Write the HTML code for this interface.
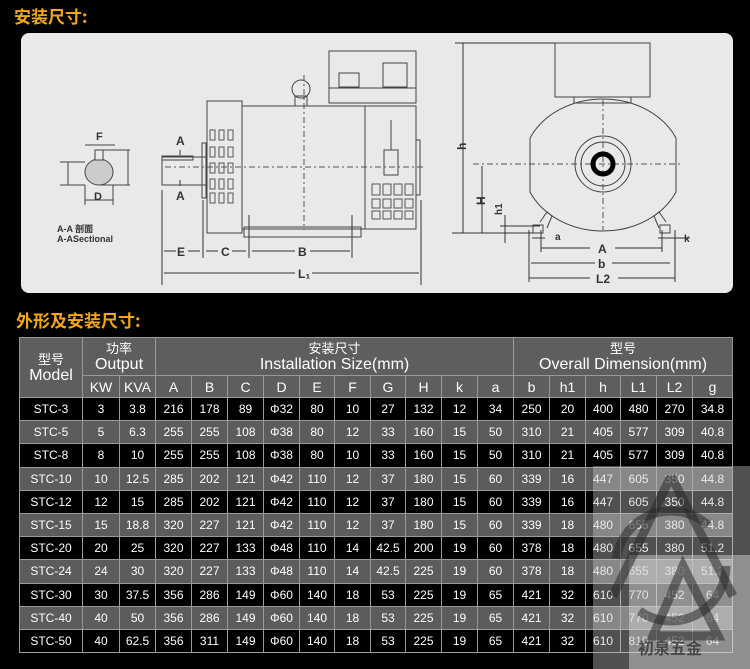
<!DOCTYPE html>
<html><head><meta charset="utf-8"><style>
*{margin:0;padding:0;box-sizing:border-box}
body{width:750px;height:669px;background:#000;position:relative;overflow:hidden;font-family:"Liberation Sans","Noto Sans CJK SC",sans-serif}
.t{position:absolute;color:#f2a71b;font-weight:bold;font-size:17px;font-family:"Noto Sans CJK SC","WenQuanYi Zen Hei",sans-serif}
.panel{position:absolute;left:21px;top:33px;width:712px;height:260px;background:#e9e9e9;border-radius:8px}
table{position:absolute;left:19px;top:337px;border-collapse:collapse;table-layout:fixed;width:714px}
td{border:1px solid #9a9a9a;color:#fff;text-align:center;font-size:12px;height:23.2px;padding:0;white-space:nowrap;overflow:hidden}
tr.h td{background:#5e5e5e;font-size:16px;line-height:16px}
tr.h2 td{background:#5e5e5e;font-size:14px;height:22px}
tr.g td{background:#5c5c5c}
tr.b td{background:#000}
.cn{font-family:"Noto Sans CJK SC",sans-serif;font-size:13px}
</style></head><body>
<div class="t" style="left:14px;top:3px">安装尺寸:</div>
<div class="panel"></div>
<svg style="position:absolute;left:0;top:0" width="750" height="300" font-family="Liberation Sans,sans-serif" font-size="11" font-weight="bold" fill="#333">
<g stroke="#444" stroke-width="1" fill="none">
<ellipse cx="99" cy="172" rx="14" ry="13" fill="#ccc"/>
<rect x="95" y="150" width="8" height="10" fill="#e9e9e9"/>
<line x1="85" y1="145" x2="115" y2="145"/><line x1="60" y1="162" x2="85" y2="162"/><line x1="60" y1="185" x2="85" y2="185"/>
<line x1="68" y1="162" x2="68" y2="185"/><line x1="128" y1="150" x2="128" y2="185"/><line x1="100" y1="150" x2="130" y2="150"/><line x1="100" y1="185" x2="130" y2="185"/>
<line x1="85" y1="200" x2="113" y2="200"/><line x1="85" y1="185" x2="85" y2="205"/><line x1="113" y1="185" x2="113" y2="205"/>
<rect x="162" y="157" width="44" height="28"/><rect x="162" y="156" width="31" height="4"/>
<rect x="207" y="101" width="35" height="132"/>
<rect x="242" y="106" width="123" height="123"/>
<rect x="365" y="106" width="51" height="123"/>
<rect x="329" y="51" width="87" height="52"/><line x1="329" y1="88" x2="416" y2="88"/>
<rect x="339" y="73" width="20" height="14"/><rect x="383" y="63" width="24" height="24"/>
<ellipse cx="301" cy="89" rx="9" ry="9"/><rect x="295" y="96" width="12" height="10"/>
<rect x="244" y="227" width="117" height="10"/>
<rect x="384" y="150" width="14" height="25"/><line x1="391" y1="120" x2="391" y2="150"/>
<rect x="202" y="143" width="4" height="55"/><rect x="416" y="140" width="4" height="55"/>
</g>
<g fill="none" stroke="#555">
<rect x="210" y="130" width="5" height="10"/><rect x="219" y="130" width="5" height="10"/><rect x="228" y="130" width="5" height="10"/>
<rect x="210" y="147" width="5" height="10"/><rect x="219" y="147" width="5" height="10"/><rect x="228" y="147" width="5" height="10"/>
<rect x="210" y="163" width="5" height="10"/><rect x="219" y="163" width="5" height="10"/><rect x="228" y="163" width="5" height="10"/>
<rect x="210" y="179" width="5" height="10"/><rect x="219" y="179" width="5" height="10"/><rect x="228" y="179" width="5" height="10"/>
<rect x="210" y="193" width="5" height="10"/><rect x="219" y="193" width="5" height="10"/><rect x="228" y="193" width="5" height="10"/>
<rect x="372" y="184" width="8" height="11"/><rect x="383" y="184" width="8" height="11"/><rect x="394" y="184" width="8" height="11"/><rect x="405" y="184" width="8" height="11"/>
<rect x="372" y="199" width="8" height="9"/><rect x="383" y="199" width="8" height="9"/><rect x="394" y="199" width="8" height="9"/><rect x="405" y="199" width="8" height="9"/>
<rect x="372" y="211" width="8" height="8"/><rect x="383" y="211" width="8" height="8"/><rect x="394" y="211" width="8" height="8"/><rect x="405" y="211" width="8" height="8"/>
</g>
<g stroke="#555" stroke-dasharray="6,3,2,3"><line x1="165" y1="167" x2="424" y2="167"/><line x1="304" y1="75" x2="304" y2="230"/><line x1="473" y1="164" x2="682" y2="164"/><line x1="603" y1="100" x2="603" y2="230"/></g>
<g stroke="#333">
<line x1="162" y1="190" x2="162" y2="285"/><line x1="421" y1="200" x2="421" y2="285"/><line x1="203" y1="200" x2="203" y2="258"/><line x1="249" y1="215" x2="249" y2="258"/><line x1="352" y1="215" x2="352" y2="258"/>
<line x1="164" y1="251" x2="176" y2="251"/><line x1="188" y1="251" x2="200" y2="251"/><line x1="206" y1="251" x2="218" y2="251"/><line x1="232" y1="251" x2="246" y2="251"/><line x1="252" y1="251" x2="295" y2="251"/><line x1="310" y1="251" x2="350" y2="251"/>
<line x1="164" y1="273" x2="295" y2="273"/><line x1="312" y1="273" x2="419" y2="273"/>
<line x1="180" y1="150" x2="180" y2="155"/><line x1="180" y1="180" x2="180" y2="186"/>
</g>
<g fill="#333" font-size="12"><text x="176" y="145">A</text><text x="176" y="200">A</text><text x="177" y="256">E</text><text x="221" y="256">C</text><text x="298" y="256">B</text><text x="298" y="278">L₁</text>
<text x="96" y="140" font-size="11">F</text><text x="94" y="200" font-size="11">D</text></g>
<text x="57" y="232" font-size="9" fill="#333">A-A 剖面</text><text x="57" y="242" font-size="9" fill="#333">A-ASectional</text>
<g stroke="#444" fill="none">
<rect x="555" y="43" width="95" height="54"/><rect x="574" y="97" width="57" height="6"/>
<path d="M530 138 A80 66 0 0 1 676 138 L676 192 A80 66 0 0 1 530 192 Z"/>
<circle cx="603" cy="164" r="28"/><circle cx="603" cy="164" r="22"/>
<circle cx="603" cy="164" r="10" stroke="#000" stroke-width="5"/>
<path d="M540 222 L547 212 L552 216 L547 228"/><path d="M666 222 L659 212 L654 216 L659 228"/>
<rect x="533" y="225" width="10" height="8"/><rect x="660" y="225" width="10" height="8"/>
</g>
<g stroke="#333">
<line x1="455" y1="43" x2="555" y2="43"/><line x1="463" y1="43" x2="463" y2="233"/><line x1="452" y1="233" x2="540" y2="233"/>
<line x1="482" y1="166" x2="482" y2="233"/><line x1="500" y1="226" x2="540" y2="226"/><line x1="505" y1="215" x2="505" y2="243"/>
<line x1="541" y1="248" x2="590" y2="248"/><line x1="615" y1="248" x2="662" y2="248"/>
<line x1="531" y1="263" x2="595" y2="263"/><line x1="612" y1="263" x2="670" y2="263"/>
<line x1="529" y1="278" x2="590" y2="278"/><line x1="618" y1="278" x2="675" y2="278"/>
<line x1="529" y1="230" x2="529" y2="282"/><line x1="675" y1="230" x2="675" y2="282"/><line x1="541" y1="230" x2="541" y2="252"/><line x1="662" y1="230" x2="662" y2="252"/>
<line x1="532" y1="238" x2="545" y2="238"/><line x1="658" y1="238" x2="690" y2="238"/>
</g>
<g fill="#333" font-size="12"><text x="598" y="253">A</text><text x="598" y="268">b</text><text x="596" y="283">L2</text><text x="555" y="240" font-size="10">a</text><text x="684" y="242" font-size="10">k</text>
<text transform="translate(466,150) rotate(-90)">h</text><text transform="translate(485,205) rotate(-90)">H</text><text transform="translate(502,215) rotate(-90)" font-size="10">h1</text></g>
</svg>
<div class="t" style="left:16px;top:307px">外形及安装尺寸:</div>
<table>
<colgroup><col style="width:63px"><col style="width:37px"><col style="width:36px"><col style="width:36px"><col style="width:36px"><col style="width:36px"><col style="width:36px"><col style="width:35px"><col style="width:36px"><col style="width:35px"><col style="width:36px"><col style="width:36px"><col style="width:36px"><col style="width:36px"><col style="width:36px"><col style="width:35px"><col style="width:36px"><col style="width:36px"><col style="width:40px"></colgroup>
<tr class="h" style="height:38px"><td rowspan="2"><span class="cn">型号</span><br>Model</td><td colspan="2"><span class="cn">功率</span><br>Output</td><td colspan="10"><span class="cn">安装尺寸</span><br>Installation Size(mm)</td><td colspan="6"><span class="cn">型号</span><br>Overall Dimension(mm)</td></tr>
<tr class="h2"><td>KW</td><td>KVA</td><td>A</td><td>B</td><td>C</td><td>D</td><td>E</td><td>F</td><td>G</td><td>H</td><td>k</td><td>a</td><td>b</td><td>h1</td><td>h</td><td>L1</td><td>L2</td><td>g</td></tr>
<tr class="b"><td>STC-3</td><td>3</td><td>3.8</td><td>216</td><td>178</td><td>89</td><td>Φ32</td><td>80</td><td>10</td><td>27</td><td>132</td><td>12</td><td>34</td><td>250</td><td>20</td><td>400</td><td>480</td><td>270</td><td>34.8</td></tr>
<tr class="g"><td>STC-5</td><td>5</td><td>6.3</td><td>255</td><td>255</td><td>108</td><td>Φ38</td><td>80</td><td>12</td><td>33</td><td>160</td><td>15</td><td>50</td><td>310</td><td>21</td><td>405</td><td>577</td><td>309</td><td>40.8</td></tr>
<tr class="b"><td>STC-8</td><td>8</td><td>10</td><td>255</td><td>255</td><td>108</td><td>Φ38</td><td>80</td><td>10</td><td>33</td><td>160</td><td>15</td><td>50</td><td>310</td><td>21</td><td>405</td><td>577</td><td>309</td><td>40.8</td></tr>
<tr class="g"><td>STC-10</td><td>10</td><td>12.5</td><td>285</td><td>202</td><td>121</td><td>Φ42</td><td>110</td><td>12</td><td>37</td><td>180</td><td>15</td><td>60</td><td>339</td><td>16</td><td>447</td><td>605</td><td>350</td><td>44.8</td></tr>
<tr class="b"><td>STC-12</td><td>12</td><td>15</td><td>285</td><td>202</td><td>121</td><td>Φ42</td><td>110</td><td>12</td><td>37</td><td>180</td><td>15</td><td>60</td><td>339</td><td>16</td><td>447</td><td>605</td><td>350</td><td>44.8</td></tr>
<tr class="g"><td>STC-15</td><td>15</td><td>18.8</td><td>320</td><td>227</td><td>121</td><td>Φ42</td><td>110</td><td>12</td><td>37</td><td>180</td><td>15</td><td>60</td><td>339</td><td>18</td><td>480</td><td>655</td><td>380</td><td>44.8</td></tr>
<tr class="b"><td>STC-20</td><td>20</td><td>25</td><td>320</td><td>227</td><td>133</td><td>Φ48</td><td>110</td><td>14</td><td>42.5</td><td>200</td><td>19</td><td>60</td><td>378</td><td>18</td><td>480</td><td>655</td><td>380</td><td>51.2</td></tr>
<tr class="g"><td>STC-24</td><td>24</td><td>30</td><td>320</td><td>227</td><td>133</td><td>Φ48</td><td>110</td><td>14</td><td>42.5</td><td>225</td><td>19</td><td>60</td><td>378</td><td>18</td><td>480</td><td>655</td><td>380</td><td>51.2</td></tr>
<tr class="b"><td>STC-30</td><td>30</td><td>37.5</td><td>356</td><td>286</td><td>149</td><td>Φ60</td><td>140</td><td>18</td><td>53</td><td>225</td><td>19</td><td>65</td><td>421</td><td>32</td><td>610</td><td>770</td><td>452</td><td>64</td></tr>
<tr class="g"><td>STC-40</td><td>40</td><td>50</td><td>356</td><td>286</td><td>149</td><td>Φ60</td><td>140</td><td>18</td><td>53</td><td>225</td><td>19</td><td>65</td><td>421</td><td>32</td><td>610</td><td>770</td><td>452</td><td>64</td></tr>
<tr class="b"><td>STC-50</td><td>40</td><td>62.5</td><td>356</td><td>311</td><td>149</td><td>Φ60</td><td>140</td><td>18</td><td>53</td><td>225</td><td>19</td><td>65</td><td>421</td><td>32</td><td>610</td><td>810</td><td>452</td><td>64</td></tr>
</table>
<div style="position:absolute;left:593px;top:466px;width:157px;height:203px;background:rgba(200,200,200,0.4)"></div>
<div style="position:absolute;left:629px;top:555px;width:121px;height:114px;background:rgba(220,220,220,0.45)"></div>
<svg style="position:absolute;left:593px;top:466px" width="157" height="203">
<g fill="none" stroke="rgba(40,40,40,0.55)" stroke-width="9"><path d="M78 10 L20 130 M78 10 L140 130"/><circle cx="78" cy="100" r="55" stroke-dasharray="120,60"/><path d="M90 100 L60 170 L125 170 Z"/></g>
<text x="45" y="188" font-family="Noto Sans CJK SC,sans-serif" font-size="16" font-weight="bold" fill="rgba(40,40,40,0.7)">初泉五金</text>
</svg>
</body></html>
